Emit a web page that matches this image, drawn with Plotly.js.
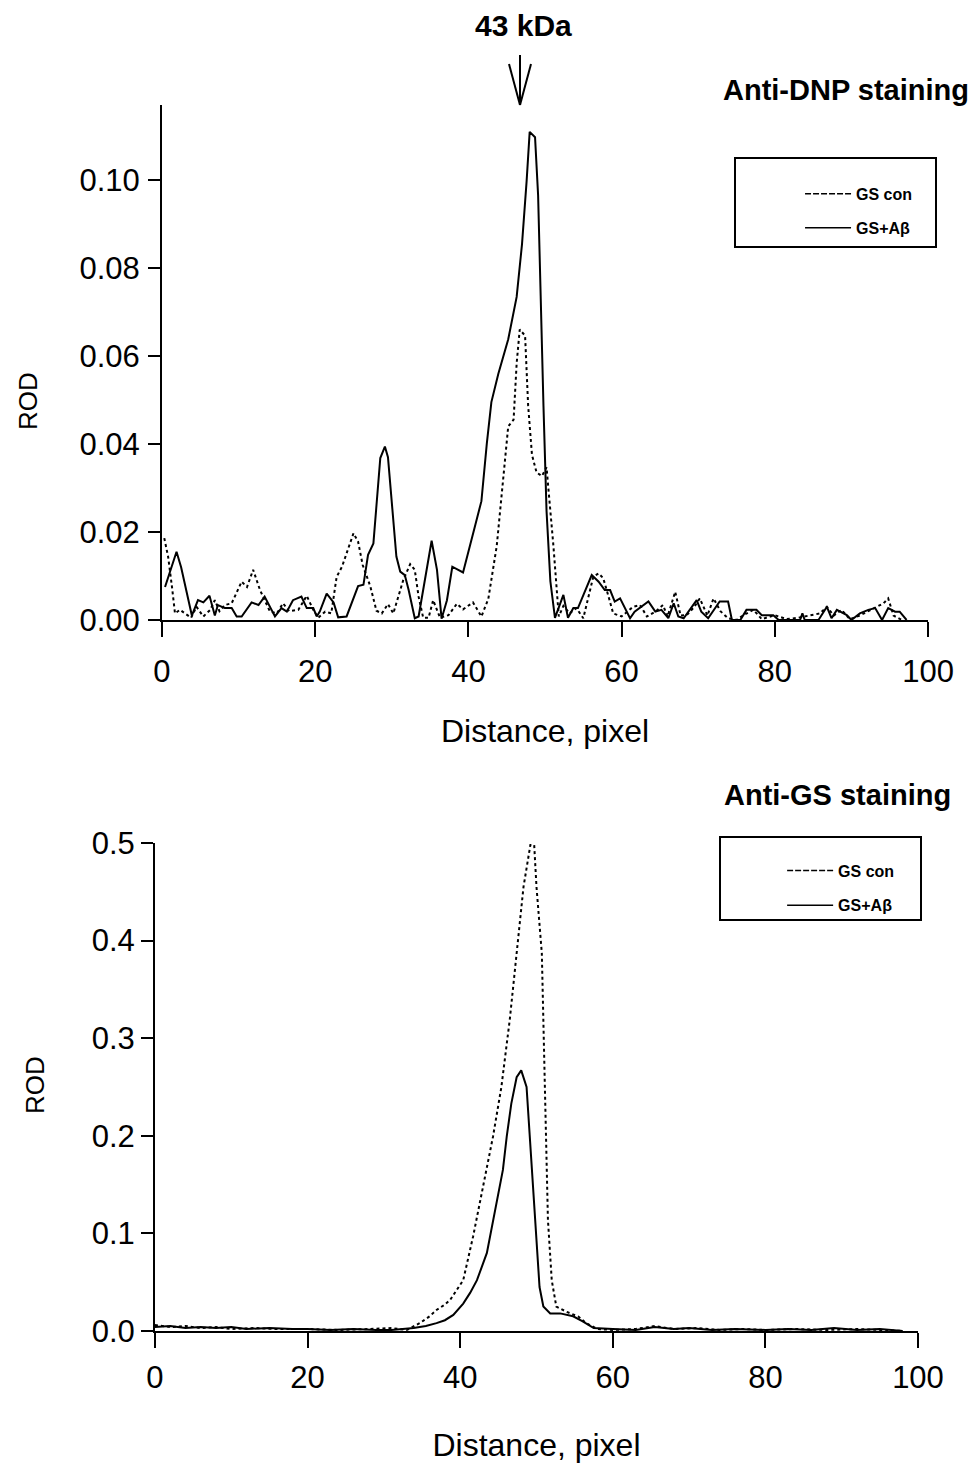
<!DOCTYPE html>
<html>
<head>
<meta charset="utf-8">
<script src="https://cdn.plot.ly/plotly-3.0.1.min.js"></script>
<style>html,body{margin:0;padding:0;background:#fff;}#chart{width:974px;height:1465px;}</style>
</head>
<body>
<div id="chart"></div>
<script>
// ---- Top panel: Anti-DNP staining ----
const dnpAbX = [0.4,1.9,2.5,3.9,4.7,5.4,6.2,6.9,7.3,8.2,9.1,9.75,10.4,11.7,12.6,13.4,14.75,15.6,16.3,17.1,18.2,18.9,19.75,20.2,20.6,21.5,22.4,23.0,24.1,25.6,26.3,26.9,27.6,28.5,29.1,29.5,30.6,31.1,31.7,32.2,33.0,33.5,35.2,35.9,36.5,37.2,37.9,38.7,39.3,40.9,41.7,42.4,43.0,43.9,45.2,46.3,47.0,47.6,48.0,48.7,49.1,49.8,50.2,50.7,51.3,52.4,53.0,53.7,54.3,56.1,57.0,57.8,58.5,59.1,59.8,61.1,61.7,63.5,64.4,65.2,66.1,66.8,67.4,68.1,69.8,70.4,71.3,72.8,73.9,74.4,75.5,76.3,77.6,78.3,79.8,80.5,83.3,83.6,83.9,85.7,86.8,87.4,88.1,89.4,90.0,91.1,92.2,93.1,94.0,94.8,95.7,96.3,97.2];
const dnpAbY = [0.0075,0.0155,0.012,0.001,0.0045,0.004,0.0055,0.001,0.0034,0.0027,0.0027,0.0008,0.0008,0.004,0.0034,0.0053,0.0008,0.0027,0.0019,0.0045,0.0053,0.0027,0.0027,0.0008,0.0019,0.006,0.004,0.0006,0.0008,0.0077,0.008,0.0148,0.0174,0.0368,0.0394,0.037,0.0144,0.011,0.0102,0.0068,0.0004,0.0008,0.018,0.0114,0.0003,0.0045,0.0121,0.0114,0.0108,0.0216,0.027,0.040,0.0495,0.0559,0.0638,0.0734,0.0854,0.0997,0.1109,0.1097,0.0965,0.0487,0.0248,0.0088,0.0005,0.0057,0.0005,0.0027,0.0027,0.0102,0.0087,0.0068,0.0068,0.0042,0.0049,0.0004,0.0019,0.0042,0.0019,0.0023,0.0004,0.0038,0.0008,0.0004,0.0045,0.0019,0.0004,0.0042,0.0042,0.0,0.0,0.0023,0.0023,0.0011,0.0011,0.0,0.0,0.0015,0.0,0.0,0.003,0.0004,0.0023,0.0011,0.0,0.0015,0.0023,0.0027,0.0,0.0027,0.0019,0.0019,0.0];

const dnpConX = [0.3,0.8,1.3,1.7,2.35,3.0,3.8,4.5,5.4,6.3,6.9,7.5,8.2,9.1,10.4,11.1,11.9,12.8,13.4,14.1,15.0,15.8,16.6,17.8,18.9,19.75,20.4,21.3,22.1,22.8,23.5,25.0,25.6,26.2,26.9,27.2,28.0,28.7,29.5,30.2,31.5,32.4,33.0,33.5,34.1,34.8,35.4,36.3,37.4,38.5,39.3,40.6,41.7,42.6,43.7,44.6,45.2,45.9,46.3,46.7,47.4,47.8,48.3,48.9,49.6,50.2,51.1,51.8,52.4,53.2,54.1,55.0,56.3,57.0,57.6,58.3,58.9,60.0,61.5,62.4,63.3,64.5,65.4,66.0,67.0,67.7,68.5,69.5,70.2,71.2,72.0,72.9,73.9,75.0,75.9,77.2,78.3,80.0,81.5,83.0,85.9,86.8,87.7,88.7,89.8,91.2,92.9,94.2,94.8,95.5,96.6];
const dnpConY = [0.0186,0.0144,0.0076,0.0015,0.0023,0.0015,0.0005,0.003,0.0008,0.0023,0.0045,0.002,0.0034,0.0038,0.0087,0.0075,0.0114,0.0068,0.0045,0.0019,0.0015,0.0038,0.002,0.0023,0.0055,0.0023,0.0005,0.0019,0.0015,0.0098,0.0121,0.0197,0.0178,0.0125,0.0091,0.0076,0.0021,0.0015,0.0036,0.0015,0.0091,0.0127,0.0114,0.0053,0.0005,0.0005,0.0045,0.0005,0.0011,0.0037,0.0024,0.004,0.0008,0.0048,0.0168,0.0327,0.044,0.0455,0.0583,0.066,0.0646,0.0487,0.0375,0.0335,0.0327,0.0347,0.0168,0.0008,0.0032,0.0015,0.0027,0.0004,0.0098,0.0106,0.0095,0.0053,0.0015,0.0008,0.003,0.0034,0.0008,0.002,0.0034,0.0008,0.0064,0.001,0.0011,0.003,0.0049,0.001,0.0049,0.002,0.0004,0.0,0.0011,0.0023,0.0002,0.0011,0.0002,0.0005,0.0015,0.003,0.001,0.0023,0.0002,0.0011,0.0027,0.0038,0.0049,0.001,0.0];

// ---- Bottom panel: Anti-GS staining ----
const gsAbX = [0,2,4,6,8,10,12,15,18,20,23,26,29,31,33.9,35.5,36.9,38,39.1,40.4,41.3,42.2,43.5,44.8,45.6,46.1,46.7,47.4,48.0,48.7,49.1,49.8,50.4,50.9,51.8,53.1,54.8,56,57.5,60,63,65.5,68,70,73,76,80,83,86,89,92,95,98];
const gsAbY = [0.004,0.005,0.003,0.004,0.003,0.004,0.002,0.003,0.002,0.002,0.001,0.002,0.001,0.001,0.003,0.005,0.008,0.011,0.0164,0.028,0.039,0.052,0.080,0.131,0.165,0.199,0.233,0.26,0.267,0.25,0.199,0.114,0.045,0.025,0.018,0.018,0.015,0.01,0.003,0.002,0.001,0.004,0.002,0.003,0.001,0.002,0.001,0.002,0.001,0.003,0.001,0.002,0.0];

const gsConX = [0,2,4,6,8,10,13,16,20,24,28,31,33,34.7,36,36.9,38,38.7,40.4,41.7,43.0,44.3,45.4,46.5,47.4,48.3,49.2,49.7,50.0,50.7,51.1,51.5,52.0,52.6,53.9,55.5,56.5,58,60,63,65.5,68,71,74,77,80,84,88,92,95,98];
const gsConY = [0.006,0.004,0.005,0.003,0.004,0.002,0.003,0.002,0.002,0.001,0.002,0.003,0.001,0.008,0.015,0.0215,0.027,0.032,0.052,0.097,0.148,0.199,0.25,0.319,0.387,0.455,0.498,0.498,0.455,0.387,0.25,0.114,0.052,0.025,0.0198,0.0147,0.008,0.002,0.001,0.002,0.005,0.002,0.003,0.001,0.002,0.001,0.002,0.001,0.002,0.001,0.0];

const seriesNames = ['GS con', 'GS+A\u03b2'];
const xTicks = [0, 20, 40, 60, 80, 100];
const yTicksTop = [0, 0.02, 0.04, 0.06, 0.08, 0.10];
const yTicksBottom = [0, 0.1, 0.2, 0.3, 0.4, 0.5];

const FONT = 'Liberation Sans, Arial, sans-serif';
const BLACK = '#000000';
const TICK = 31;

const traces = [
  {x: dnpConX, y: dnpConY, xaxis: 'x', yaxis: 'y', mode: 'lines', line: {color: BLACK, width: 2, dash: 'dot'}, showlegend: false},
  {x: dnpAbX, y: dnpAbY, xaxis: 'x', yaxis: 'y', mode: 'lines', line: {color: BLACK, width: 2}, showlegend: false},
  {x: gsConX, y: gsConY, xaxis: 'x2', yaxis: 'y2', mode: 'lines', line: {color: BLACK, width: 2, dash: 'dot'}, showlegend: false},
  {x: gsAbX, y: gsAbY, xaxis: 'x2', yaxis: 'y2', mode: 'lines', line: {color: BLACK, width: 2}, showlegend: false},
  // legend entries
  {x: [null], y: [null], xaxis: 'x', yaxis: 'y', mode: 'lines', name: seriesNames[0], legend: 'legend', legendgroup: 'a', line: {color: BLACK, width: 1.5, dash: '6px,2px'}},
  {x: [null], y: [null], xaxis: 'x', yaxis: 'y', mode: 'lines', name: seriesNames[1], legend: 'legend', legendgroup: 'b', line: {color: BLACK, width: 1.5}},
  {x: [null], y: [null], xaxis: 'x2', yaxis: 'y2', mode: 'lines', name: seriesNames[0], legend: 'legend2', legendgroup: 'c', line: {color: BLACK, width: 1.5, dash: '6px,2px'}},
  {x: [null], y: [null], xaxis: 'x2', yaxis: 'y2', mode: 'lines', name: seriesNames[1], legend: 'legend2', legendgroup: 'd', line: {color: BLACK, width: 1.5}}
];

function xAxis(domain, anchor, standoff, titleStandoff) {
  return {
    domain: domain, anchor: anchor, range: [0, 100], tickvals: xTicks, ticktext: xTicks.map(String),
    ticks: 'outside', ticklen: 15, tickwidth: 2, tickcolor: BLACK,
    showline: true, linewidth: 2, linecolor: BLACK, showgrid: false, zeroline: false,
    tickfont: {family: FONT, size: TICK, color: BLACK}, ticklabelstandoff: standoff,
    title: {text: 'Distance, pixel', font: {family: FONT, size: 32, color: BLACK}, standoff: titleStandoff}
  };
}
function yAxis(domain, anchor, range, ticks, fmt, standoff) {
  return {
    domain: domain, anchor: anchor, range: range, tickvals: ticks, tickformat: fmt,
    ticks: 'outside', ticklen: 12, tickwidth: 2, tickcolor: BLACK,
    showline: true, linewidth: 2, linecolor: BLACK, showgrid: false, zeroline: false,
    tickfont: {family: FONT, size: TICK, color: BLACK}, ticklabelstandoff: standoff,
    title: {text: ''}
  };
}

const legendFont = {family: FONT, size: 16, color: BLACK, weight: 700};
const yTitleFont = {family: FONT, size: 26, color: BLACK};

const layout = {
  width: 974, height: 1465,
  margin: {l: 0, r: 0, t: 0, b: 0},
  paper_bgcolor: '#ffffff', plot_bgcolor: '#ffffff',
  showlegend: true,
  xaxis: xAxis([0.1663, 0.9528], 'y', 8, 31),
  yaxis: yAxis([0.5768, 0.9283], 'x', [0, 0.117], yTicksTop, '.2f', 2),
  xaxis2: xAxis([0.1591, 0.9425], 'y2', 3, 39),
  yaxis2: yAxis([0.0915, 0.4246], 'x2', [0, 0.5], yTicksBottom, '.1f', 0),
  legend: {x: 0.8214, y: 0.8792, xref: 'paper', yref: 'paper', xanchor: 'left', yanchor: 'top',
    bgcolor: 'rgba(0,0,0,0)', borderwidth: 0, font: legendFont, tracegroupgap: 10, itemwidth: 46},
  legend2: {x: 0.803, y: 0.4174, xref: 'paper', yref: 'paper', xanchor: 'left', yanchor: 'top',
    bgcolor: 'rgba(0,0,0,0)', borderwidth: 0, font: legendFont, tracegroupgap: 11, itemwidth: 46},
  shapes: [
    // legend boxes
    {type: 'rect', xref: 'paper', yref: 'paper', x0: 735/974, x1: 936/974, y0: 1 - 247/1465, y1: 1 - 158/1465, line: {color: BLACK, width: 2}},
    {type: 'rect', xref: 'paper', yref: 'paper', x0: 720/974, x1: 921/974, y0: 1 - 920/1465, y1: 1 - 837/1465, line: {color: BLACK, width: 2}},
    // 43 kDa arrow
    {type: 'line', xref: 'paper', yref: 'paper', x0: 520/974, x1: 520/974, y0: 1 - 55/1465, y1: 1 - 105/1465, line: {color: BLACK, width: 2}},
    {type: 'line', xref: 'paper', yref: 'paper', x0: 509/974, x1: 520/974, y0: 1 - 64/1465, y1: 1 - 105/1465, line: {color: BLACK, width: 2}},
    {type: 'line', xref: 'paper', yref: 'paper', x0: 531/974, x1: 520/974, y0: 1 - 64/1465, y1: 1 - 105/1465, line: {color: BLACK, width: 2}}
  ],
  annotations: [
    {text: 'ROD', xref: 'paper', yref: 'paper', x: 28/974, y: 1 - 401/1465, xanchor: 'center', yanchor: 'middle', textangle: -90, showarrow: false, font: yTitleFont},
    {text: 'ROD', xref: 'paper', yref: 'paper', x: 35/974, y: 1 - 1085/1465, xanchor: 'center', yanchor: 'middle', textangle: -90, showarrow: false, font: yTitleFont},
    {text: '43 kDa', xref: 'paper', yref: 'paper', x: 523/974, y: 1 - 26/1465, xanchor: 'center', yanchor: 'middle', showarrow: false,
      font: {family: FONT, size: 30, color: BLACK, weight: 700}},
    {text: 'Anti-DNP staining', xref: 'paper', yref: 'paper', x: 971/974, y: 1 - 90/1465, xanchor: 'right', yanchor: 'middle', showarrow: false,
      font: {family: FONT, size: 29, color: BLACK, weight: 700}},
    {text: 'Anti-GS staining', xref: 'paper', yref: 'paper', x: 953/974, y: 1 - 795/1465, xanchor: 'right', yanchor: 'middle', showarrow: false,
      font: {family: FONT, size: 29, color: BLACK, weight: 700}}
  ]
};

Plotly.newPlot('chart', traces, layout, {staticPlot: true, displayModeBar: false});
</script>
</body>
</html>
